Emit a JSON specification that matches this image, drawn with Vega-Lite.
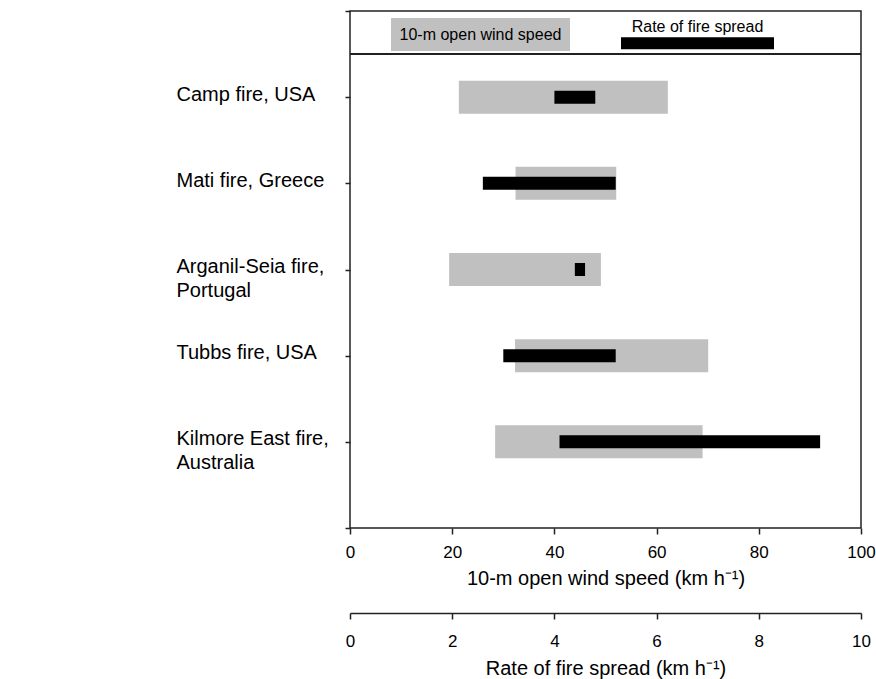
{
  "$schema": "https://vega.github.io/schema/vega-lite/v6.json",
  "width": 511,
  "height": 517,
  "autosize": {"type": "none"},
  "padding": {"left": 350, "top": 11, "right": 15, "bottom": 151},
  "background": "white",
  "config": {
    "font": "Liberation Sans",
    "view": {"stroke": "#222", "strokeWidth": 1.5},
    "axis": {
      "labelColor": "black",
      "titleColor": "black",
      "tickColor": "#222",
      "domainColor": "#222",
      "tickWidth": 1.5,
      "domainWidth": 1.5,
      "titleFontWeight": "normal",
      "grid": false,
      "labelFont": "Liberation Sans",
      "titleFont": "Liberation Sans"
    },
    "legend": {"labelFont": "Liberation Sans", "labelColor": "black"}
  },
  "data": {
    "values": [
      {"fire": "Camp fire, USA", "wind_low": 21.3, "wind_high": 62.2, "ros_low": 4.0, "ros_high": 4.8},
      {"fire": "Mati fire, Greece", "wind_low": 32.4, "wind_high": 52.1, "ros_low": 2.6, "ros_high": 5.2},
      {"fire": "Arganil-Seia fire,\nPortugal", "wind_low": 19.4, "wind_high": 49.1, "ros_low": 4.4, "ros_high": 4.6},
      {"fire": "Tubbs fire, USA", "wind_low": 32.3, "wind_high": 70.1, "ros_low": 3.0, "ros_high": 5.2},
      {"fire": "Kilmore East fire,\nAustralia", "wind_low": 28.4, "wind_high": 69.0, "ros_low": 4.1, "ros_high": 9.2}
    ]
  },
  "layer": [
    {
      "mark": {"type": "bar", "orient": "horizontal", "size": 33},
      "encoding": {
        "y": {
          "field": "fire",
          "type": "nominal",
          "sort": null,
          "scale": {"type": "point", "padding": 1},
          "axis": {
            "title": null,
            "orient": "left",
            "domain": false,
            "tickSize": 5,
            "labelAlign": "left",
            "labelBaseline": "alphabetic",
            "labelPadding": 169,
            "labelOffset": 3,
            "labelFontSize": 20,
            "labelLimit": 300,
            "labelLineHeight": 24,
            "labelOverlap": false,
            "labelExpr": "split(datum.label, '\\n')"
          }
        },
        "x": {
          "field": "wind_low",
          "type": "quantitative",
          "scale": {"domain": [0, 100], "nice": false},
          "axis": {
            "orient": "bottom",
            "values": [0, 20, 40, 60, 80, 100],
            "domain": false,
            "tickSize": 6,
            "labelFontSize": 17,
            "labelPadding": 10,
            "labelFlush": false,
            "labelOverlap": false,
            "title": "10-m open wind speed (km h⁻¹)",
            "titleFontSize": 20,
            "titlePadding": 8
          }
        },
        "x2": {"field": "wind_high"},
        "color": {
          "datum": "10-m open wind speed",
          "scale": {"range": ["#c0c0c0"]},
          "legend": {
            "orient": "none",
            "legendX": 41,
            "legendY": -66,
            "title": null,
            "padding": 0,
            "symbolType": "M-1,-0.184H1V0.184H-1Z",
            "symbolSize": 32041,
            "symbolStrokeWidth": 0,
            "labelAlign": "center",
            "labelBaseline": "middle",
            "labelOffset": -89.5,
            "labelFontSize": 16,
            "labelLimit": 400
          }
        }
      }
    },
    {
      "mark": {"type": "bar", "orient": "horizontal", "size": 13},
      "encoding": {
        "y": {
          "field": "fire",
          "type": "nominal",
          "sort": null,
          "scale": {"type": "point", "padding": 1},
          "axis": null
        },
        "x": {
          "field": "ros_low",
          "type": "quantitative",
          "scale": {"domain": [0, 10], "nice": false},
          "axis": {
            "orient": "bottom",
            "offset": 85,
            "values": [0, 2, 4, 6, 8, 10],
            "domain": true,
            "tickSize": 6,
            "labelFontSize": 17,
            "labelPadding": 14,
            "labelFlush": false,
            "labelOverlap": false,
            "title": "Rate of fire spread (km h⁻¹)",
            "titleFontSize": 20,
            "titlePadding": 9
          }
        },
        "x2": {"field": "ros_high"},
        "fill": {
          "datum": "Rate of fire spread",
          "scale": {"range": ["black"]},
          "legend": {
            "orient": "none",
            "legendX": 271,
            "legendY": -55.5,
            "title": null,
            "padding": 0,
            "symbolType": "M-1,0.068H1V0.224H-1Z",
            "symbolSize": 23409,
            "symbolStrokeWidth": 0,
            "labelAlign": "center",
            "labelBaseline": "alphabetic",
            "labelOffset": -76.5,
            "labelFontSize": 16,
            "labelLimit": 400
          }
        }
      }
    },
    {
      "mark": {"type": "rule", "color": "#222", "strokeWidth": 1.5},
      "encoding": {
        "y": {
          "datum": 5.5,
          "type": "quantitative",
          "scale": {"domain": [0, 6], "nice": false},
          "axis": {
            "orient": "left",
            "values": [0, 6],
            "labels": false,
            "domain": false,
            "tickSize": 5,
            "title": null
          }
        }
      }
    }
  ],
  "resolve": {"scale": {"x": "independent", "y": "independent"}}
}
